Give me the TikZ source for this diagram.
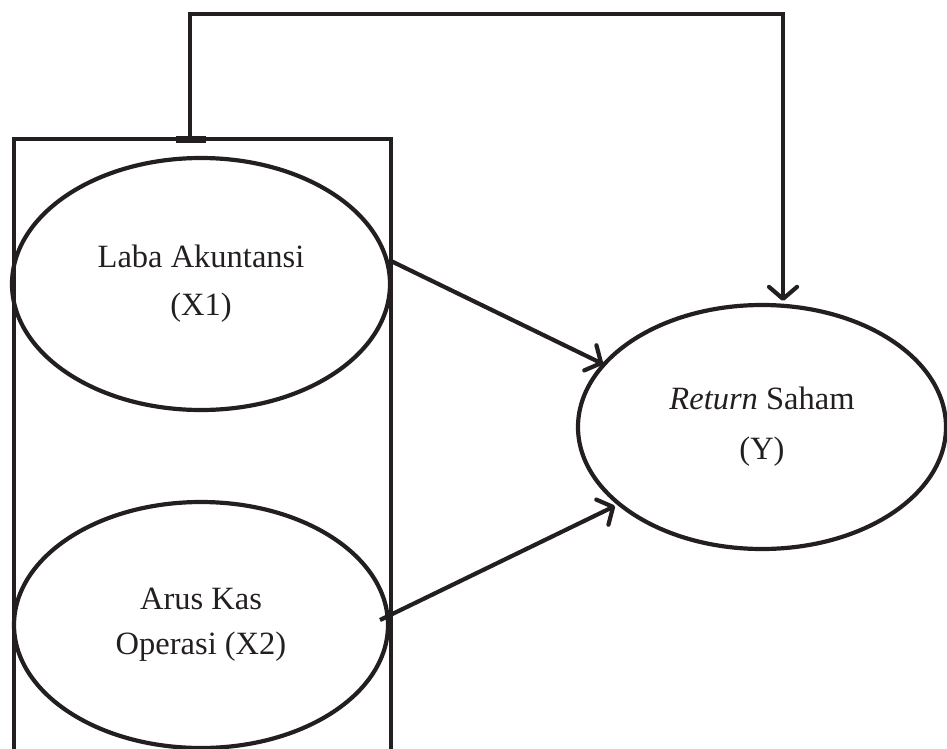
\documentclass[tikz,border=0pt]{standalone}
\usepackage{fontspec}
\setmainfont{Liberation Serif}
\usetikzlibrary{shapes.geometric,arrows.meta}
\definecolor{ink}{HTML}{231F20}
\begin{document}
\begin{tikzpicture}[x=1pt,y=-1pt,
  line width=4.2pt, draw=ink,
  var/.style={ellipse, draw=ink, line width=4.2pt, inner sep=0pt, text=ink,
    align=center, font=\fontsize{32.5}{48}\selectfont},
  link/.style={draw=ink, line width=4.2pt, -{Straight Barb[length=12pt,width=28pt,line width=4.2pt,round]}},
  frame/.style={draw=ink, line width=4pt, rectangle, inner sep=0pt}]
\useasboundingbox (0,0) rectangle (947,749);
\clip (0,0) rectangle (947,749);
% group frame
\node[frame, minimum width=377pt, minimum height=700pt] (box) at (202.5,489) {};
\fill[ink] (176,135.5) rectangle (206,143);
% variables
\node[var, minimum width=378pt, minimum height=252pt] (x1) at (201,284)
  {Laba Akuntansi\\(X1)};
\node[var, minimum width=374pt, minimum height=246pt, font=\fontsize{32.5}{45}\selectfont] (x2) at (201,625)
  {Arus Kas\\Operasi (X2)};
\node[var, minimum width=368pt, minimum height=244pt, font=\fontsize{32.5}{50}\selectfont] (y) at (762,427)
  {\textit{Return} Saham\\(Y)};
% connectors
\coordinate (t0) at (190,139);
\coordinate (t1) at (190,14);
\coordinate (t2) at (783,14);
\coordinate (t3) at (783,301);
\coordinate (a1) at (391,261);
\coordinate (b1) at (603,364);
\coordinate (a2) at (380,620);
\coordinate (b2) at (615,506);
\draw[link] (t0) -- (t1) -- (t2) -- (t3);
\draw[link] (a1) -- (b1);
\draw[link] (a2) -- (b2);
\end{tikzpicture}
\end{document}
